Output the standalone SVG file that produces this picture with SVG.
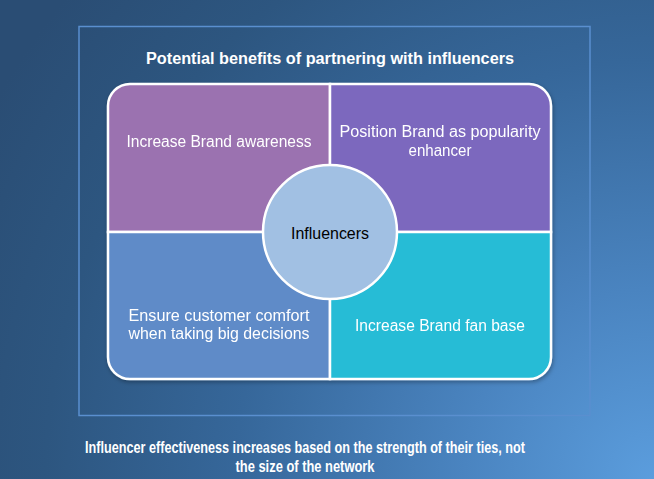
<svg xmlns="http://www.w3.org/2000/svg" width="654" height="479" viewBox="0 0 654 479">
<defs>
<radialGradient id="bg" cx="654" cy="479" r="760" gradientUnits="userSpaceOnUse">
<stop offset="0" stop-color="#5b9ddd"/>
<stop offset="0.25" stop-color="#4a84c0"/>
<stop offset="0.55" stop-color="#36679a"/>
<stop offset="0.8" stop-color="#2d5680"/>
<stop offset="1" stop-color="#2a4d74"/>
</radialGradient>
<filter id="sh" x="-10%" y="-10%" width="120%" height="120%">
<feDropShadow dx="1" dy="2" stdDeviation="2" flood-color="#000" flood-opacity="0.3"/>
</filter>
</defs>
<style>
.q{stroke:#ffffff;stroke-width:2.5}
.t{font-family:"Liberation Sans",Arial,sans-serif;font-size:16px;fill:#ffffff;text-anchor:middle}
.b{font-family:"Liberation Sans",Arial,sans-serif;font-size:16px;font-weight:bold;fill:#ffffff;text-anchor:middle}
</style>
<rect x="0" y="0" width="654" height="479" fill="url(#bg)"/>
<rect id="frame" x="79" y="26.5" width="511" height="389" fill="none" stroke="#5a8fcf" stroke-width="1.5"/>
<text class="b" x="330" y="64" textLength="368" lengthAdjust="spacingAndGlyphs">Potential benefits of partnering with influencers</text>
<g id="connectors"></g>
<g filter="url(#sh)">
<g id="q-awareness">
<path class="q" fill="#9b72b0" d="M108,232 V106 A22,22 0 0 1 130,84 H330 V232 Z"/>
<text class="t" x="219" y="147" textLength="185" lengthAdjust="spacingAndGlyphs">Increase Brand awareness</text>
</g>
<g id="q-popularity">
<path class="q" fill="#7b68be" d="M330,84 H529 A22,22 0 0 1 551,106 V232 H330 Z"/>
<text class="t" x="440" y="137" textLength="201" lengthAdjust="spacingAndGlyphs">Position Brand as popularity</text>
<text class="t" x="440" y="156" textLength="63" lengthAdjust="spacingAndGlyphs">enhancer</text>
</g>
<g id="q-comfort">
<path class="q" fill="#5f8bc8" d="M108,232 H330 V379 H130 A22,22 0 0 1 108,357 Z"/>
<text class="t" x="219" y="321" textLength="181" lengthAdjust="spacingAndGlyphs">Ensure customer comfort</text>
<text class="t" x="219" y="339" textLength="181" lengthAdjust="spacingAndGlyphs">when taking big decisions</text>
</g>
<g id="q-fanbase">
<path class="q" fill="#25bcd6" d="M330,232 H551 V357 A22,22 0 0 1 529,379 H330 Z"/>
<text class="t" x="440" y="331" textLength="170" lengthAdjust="spacingAndGlyphs">Increase Brand fan base</text>
</g>
</g>
<g id="influencers">
<circle cx="330" cy="232" r="67" fill="#a1c0e3" stroke="#ffffff" stroke-width="2.5"/>
<text class="t" x="330" y="239" style="fill:#000000" textLength="78" lengthAdjust="spacingAndGlyphs">Influencers</text>
</g>
<text class="b" x="305" y="453" textLength="440" lengthAdjust="spacingAndGlyphs">Influencer effectiveness increases based on the strength of their ties, not</text>
<text class="b" x="305" y="472" textLength="139" lengthAdjust="spacingAndGlyphs">the size of the network</text>
</svg>
